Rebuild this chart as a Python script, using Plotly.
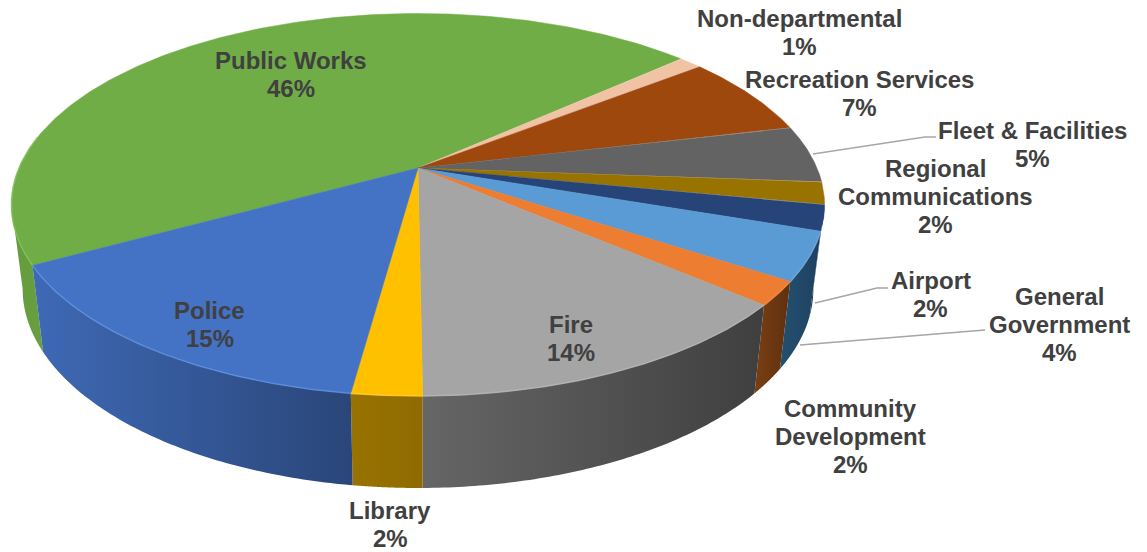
import numpy as np
import plotly.graph_objects as go

# Data (clockwise, starting at Public Works)
departments = ["Public Works", "Non-departmental", "Recreation Services", "Fleet & Facilities",
               "Regional Communications", "Airport", "General Government",
               "Community Development", "Fire", "Library", "Police"]
shares = [46.3, 1.11, 6.88, 4.83, 1.88, 2.19, 4.08, 1.99, 13.56, 2.33, 14.85]
shown_percent = [46, 1, 7, 5, 2, 2, 4, 2, 14, 2, 15]

# Styles
top_colors = ["#70AD47", "#F1C3A5", "#9E480E", "#636363", "#997300", "#264478",
              "#5B9BD5", "#ED7D31", "#A5A5A5", "#FFC000", "#4472C4"]
wall_from = ["#649C3E", "#B08B74", "#6F3A10", "#444444", "#6B5100", "#1B3054",
             "#24506F", "#7A3F12", "#666666", "#997300", "#3E69B5"]
wall_to = ["#689F40", "#B08B74", "#6F3A10", "#444444", "#6B5100", "#1B3054",
           "#1F4060", "#5E3010", "#3F3F3F", "#8F6B00", "#2A4679"]
rim_colors = ["#84C25A", None, None, None, None, None, "#6FA8DC", "#F08A45", "#B5B5B5", "#FFCB33", "#5F8EDD"]

# Label layout: lines, centre x, centre y of the first line
label_lines = [["Public Works", "46%"], ["Non-departmental", "1%"], ["Recreation Services", "7%"],
               ["Fleet & Facilities", "5%"], ["Regional", "Communications", "2%"], ["Airport", "2%"],
               ["General", "Government", "4%"], ["Community", "Development", "2%"],
               ["Fire", "14%"], ["Library", "2%"], ["Police", "15%"]]
label_x = [290.5, 799.5, 859.5, 1032.5, 935.5, 930.5, 1059.5, 850.5, 570.5, 390, 209.5]
label_y = [60, 18, 79, 130, 168, 280, 296, 408, 324, 510, 310]
line_step = 28

# Leader lines
leaders_x = [[813, 925, 936], [815, 877, 888], [800, 985]]
leaders_y = [[154, 137, 137], [303, 288, 288], [345, 330]]

# Pie geometry on a 1147x552 pixel-scaled axis
CX, CY = 418, 168
A, B, K = 399, 184.2, 0.192
A2, B2, CY2 = 388, 191.8, 250.6
START = 151.3


def top_point(deg):
    t = np.radians(deg)
    d = 1 - K * np.sin(t)
    return CX + A * np.cos(t) / d, CY + B * np.sin(t) / d


def low_point(deg):
    t = np.radians(deg)
    d = 1 - K * np.sin(t)
    return CX + A2 * np.cos(t) / d, CY2 + B2 * np.sin(t) / d


total = sum(shares)
edges = START + np.concatenate([[0], np.cumsum(shares)]) * 360 / total
tangent = np.degrees(np.arcsin(K))
wall_lo, wall_hi = tangent, 180 - tangent

fig = go.Figure()

# side walls: only the part facing the viewer, between the two silhouette tangents
for i, name in enumerate(departments):
    a0, a1 = edges[i], edges[i + 1]
    for shift in (0, -360):
        lo, hi = max(a0 + shift, wall_lo), min(a1 + shift, wall_hi)
        if hi <= lo:
            continue
        ts = np.linspace(lo, hi, 80)
        xt, yt = top_point(ts)
        xb, yb = low_point(ts)
        fig.add_trace(go.Scatter(
            x=np.concatenate([xt, xb[::-1]]), y=np.concatenate([yt, yb[::-1]]),
            mode="none", fill="toself",
            fillgradient=dict(type="horizontal",
                              colorscale=[[0, wall_from[i]], [1, wall_to[i]]]),
            hoverinfo="skip", showlegend=False))

# top faces
for i, name in enumerate(departments):
    ts = np.linspace(edges[i], edges[i + 1], 200)
    xt, yt = top_point(ts)
    fig.add_trace(go.Scatter(
        x=np.concatenate([[CX], xt, [CX]]), y=np.concatenate([[CY], yt, [CY]]),
        mode="lines", line=dict(width=0.5, color=top_colors[i]),
        fill="toself", fillcolor=top_colors[i],
        name=name, text=f"{name}: {shown_percent[i]}%", hoverinfo="text", showlegend=False))

# soft light rim along the front edge
for i, name in enumerate(departments):
    if rim_colors[i] is None:
        continue
    for shift in (0, -360):
        lo, hi = max(edges[i] + shift, 0), min(edges[i + 1] + shift, 190)
        if hi <= lo:
            continue
        ts = np.linspace(lo, hi, 100)
        xt, yt = top_point(ts)
        fig.add_trace(go.Scatter(x=xt, y=yt, mode="lines",
                                 line=dict(width=1.6, color=rim_colors[i]),
                                 opacity=0.75, hoverinfo="skip", showlegend=False))

# leader lines
for lx, ly in zip(leaders_x, leaders_y):
    fig.add_trace(go.Scatter(x=lx, y=ly, mode="lines",
                             line=dict(width=1.5, color="#A6A6A6"),
                             hoverinfo="skip", showlegend=False))

# labels
for lines, x, y in zip(label_lines, label_x, label_y):
    for j, txt in enumerate(lines):
        fig.add_annotation(x=x, y=y + j * line_step, text=txt, showarrow=False,
                           xanchor="center", yanchor="middle",
                           font=dict(family="Liberation Sans", size=24, color="#404040", weight=700))

fig.update_layout(
    width=1147, height=552, margin=dict(l=0, r=0, t=0, b=0),
    paper_bgcolor="white", plot_bgcolor="white", showlegend=False,
    xaxis=dict(range=[0, 1147], visible=False, fixedrange=True),
    yaxis=dict(range=[552, 0], visible=False, fixedrange=True),
)
fig.write_html("out.html", config={"displayModeBar": False},
               post_script="document.body.style.margin='0';")
